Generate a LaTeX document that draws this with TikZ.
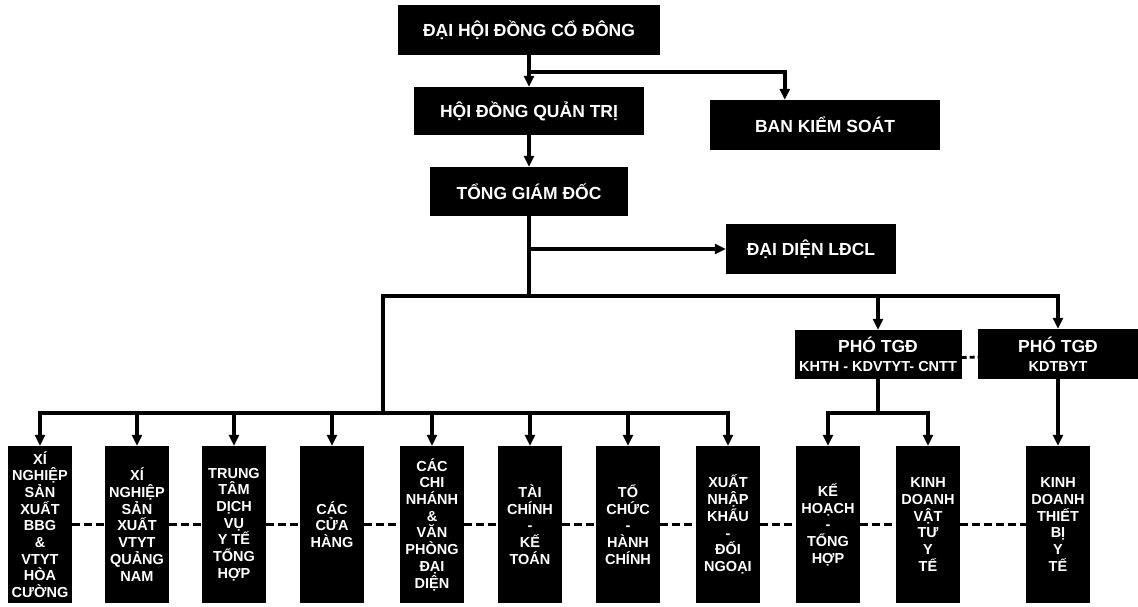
\documentclass[tikz,border=0pt]{standalone}
\usepackage{fontspec}
\setmainfont{Liberation Sans}
\usetikzlibrary{arrows.meta}
\tikzset{
  box/.style={fill=black, text=white, inner sep=0pt, align=center},
  topbox/.style={box, font={\fontsize{17.5}{20}\selectfont\bfseries}},
  vicebox/.style={box, font={\fontsize{14.5}{19}\selectfont\bfseries}},
  unitbox/.style={box, minimum width=64pt, minimum height=157pt, font={\fontsize{14.5}{16.7}\selectfont\bfseries}},
  conn/.style={line width=3.4pt, draw=black},
  arr/.style={conn, -{Triangle[length=11pt,width=10pt]}},
  dashlink/.style={line width=2.8pt, draw=black, dash pattern=on 8pt off 4pt}
}
\begin{document}
\begin{tikzpicture}[x=1pt,y=-1pt]
\useasboundingbox (0,0) rectangle (1138,607);
\fill[white] (0,0) rectangle (1138,607);
% top level
\node[topbox, minimum width=262pt, minimum height=50pt] (dhd) at (529,30) {ĐẠI HỘI ĐỒNG CỔ ĐÔNG};
\node[topbox, minimum width=230pt, minimum height=48pt] (hdqt) at (529,111) {HỘI ĐỒNG QUẢN TRỊ};
\node[topbox, minimum width=230pt, minimum height=50pt] (bks) at (825,125) {BAN KIỂM SOÁT};
\node[topbox, minimum width=198pt, minimum height=49pt] (tgd) at (529,191.5) {TỔNG GIÁM ĐỐC};
\node[topbox, minimum width=170pt, minimum height=50pt] (dd) at (811,249) {ĐẠI DIỆN LĐCL};
\node[vicebox, minimum width=167pt, minimum height=49pt] (p1) at (878,354.5)
  {{\fontsize{17.5}{19}\selectfont PHÓ TGĐ}\\KHTH - KDVTYT- CNTT};
\node[vicebox, minimum width=160pt, minimum height=50pt] (p2) at (1058,354)
  {{\fontsize{17.5}{19}\selectfont PHÓ TGĐ}\\KDTBYT};
% bottom units
\node[unitbox] (b1) at (40,524.5) {XÍ\\NGHIỆP\\SẢN\\XUẤT\\BBG\\\&\\VTYT\\HÒA\\CƯỜNG};
\node[unitbox] (b2) at (137,524.5) {XÍ\\NGHIỆP\\SẢN\\XUẤT\\VTYT\\QUẢNG\\NAM};
\node[unitbox] (b3) at (234,524.5) {TRUNG\\TÂM\\DỊCH\\VỤ\\Y TẾ\\TỔNG\\HỢP};
\node[unitbox] (b4) at (332,524.5) {CÁC\\CỬA\\HÀNG};
\node[unitbox] (b5) at (432,524.5) {CÁC\\CHI\\NHÁNH\\\&\\VĂN\\PHÒNG\\ĐẠI\\DIỆN};
\node[unitbox] (b6) at (530,524.5) {TÀI\\CHÍNH\\-\\KẾ\\TOÁN};
\node[unitbox] (b7) at (628,524.5) {TỔ\\CHỨC\\-\\HÀNH\\CHÍNH};
\node[unitbox] (b8) at (728,524.5) {XUẤT\\NHẬP\\KHẨU\\-\\ĐỐI\\NGOẠI};
\node[unitbox] (b9) at (828,524.5) {KẾ\\HOẠCH\\-\\TỔNG\\HỢP};
\node[unitbox] (b10) at (928,524.5) {KINH\\DOANH\\VẬT\\TƯ\\Y\\TẾ};
\node[unitbox] (b11) at (1058,524.5) {KINH\\DOANH\\THIẾT\\BỊ\\Y\\TẾ};
% junction coordinates
\coordinate (j1) at (529,72);
\coordinate (jL) at (383,296);
\coordinate (jM) at (529,296);
\coordinate (jR) at (1058,296);
\coordinate (jB) at (383,413);
\coordinate (jBL) at (40,413);
\coordinate (jBR) at (728,413);
\coordinate (kL) at (828,413);
\coordinate (kR) at (928,413);
% connectors top
\draw[arr] (dhd.south) -- (hdqt.north);
\draw[arr] (j1) -| ([xshift=75pt]bks.north west);
\draw[arr] (hdqt.south) -- (tgd.north);
\draw[conn] (tgd.south) -- (jM);
\draw[arr] (tgd.south |- dd.west) -- (dd.west);
\draw[conn, line cap=rect] (jL) -- (jR);
\draw[arr] (p1.north |- jL) -- (p1.north);
\draw[arr] (jR) -- (p2.north);
\draw[conn] (jL) -- (jB);
\draw[conn, line cap=rect] (jBL) -- (jBR);
\foreach \b in {b1,b2,b3,b4,b5,b6,b7,b8}{
  \draw[arr] (\b.north |- jB) -- (\b.north);
}
\draw[conn] (p1.south) -- (p1.south |- kL);
\draw[conn, line cap=rect] (kL) -- (kR);
\draw[arr] (kL) -- (b9.north);
\draw[arr] (kR) -- (b10.north);
\draw[arr] (p2.south) -- (b11.north);
% dashed links
\draw[dashlink] (b1.east) -- (b2.west);
\draw[dashlink] (b2.east) -- (b3.west);
\draw[dashlink] (b3.east) -- (b4.west);
\draw[dashlink] (b4.east) -- (b5.west);
\draw[dashlink] (b5.east) -- (b6.west);
\draw[dashlink] (b6.east) -- (b7.west);
\draw[dashlink] (b7.east) -- (b8.west);
\draw[dashlink] (b8.east) -- (b9.west);
\draw[dashlink] (b9.east) -- (b10.west);
\draw[dashlink] (b10.east) -- (b11.west);
\draw[dashlink, dash pattern=on 5pt off 3pt] ([yshift=-3pt]p1.east) -- ([yshift=-3pt]p2.west);
\end{tikzpicture}
\end{document}
